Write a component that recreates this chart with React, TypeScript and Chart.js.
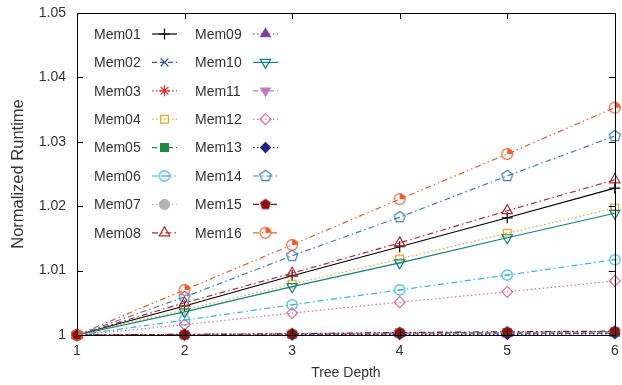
import React, { useEffect, useRef } from 'react';
import { Chart, registerables } from 'chart.js';
import { drawPoint } from 'chart.js/helpers';

Chart.register(...registerables);

const depths = [1, 2, 3, 4, 5, 6];
const yTickValues = [1, 1.01, 1.02, 1.03, 1.04, 1.05];
const seriesNames = ['Mem01', 'Mem02', 'Mem03', 'Mem04', 'Mem05', 'Mem06', 'Mem07', 'Mem08',
  'Mem09', 'Mem10', 'Mem11', 'Mem12', 'Mem13', 'Mem14', 'Mem15', 'Mem16'];

const mem01 = [1, 1.0045, 1.0092, 1.0137, 1.0182, 1.0228];
const mem02 = [1, 1.0000, 1.0001, 1.0002, 1.0002, 1.0003];
const mem03 = [1, 1.0001, 1.0002, 1.0003, 1.0004, 1.0005];
const mem04 = [1, 1.0039, 1.0079, 1.0118, 1.0158, 1.0197];
const mem05 = [1, 1.0000, 1.0001, 1.0003, 1.0004, 1.0005];
const mem06 = [1, 1.0023, 1.0047, 1.0070, 1.0093, 1.0117];
const mem07 = [1, 1.0000, 1.0001, 1.0002, 1.0003, 1.0004];
const mem08 = [1, 1.0050, 1.0096, 1.0143, 1.0193, 1.0241];
const mem09 = [1, 1.0000, 1.0001, 1.0002, 1.0002, 1.0003];
const mem10 = [1, 1.0036, 1.0075, 1.0112, 1.0151, 1.0189];
const mem11 = [1, 1.0000, 1.0001, 1.0002, 1.0003, 1.0004];
const mem12 = [1, 1.0016, 1.0034, 1.0051, 1.0067, 1.0084];
const mem13 = [1, 1.0000, 1.0000, 1.0001, 1.0001, 1.0002];
const mem14 = [1, 1.0059, 1.0123, 1.0183, 1.0247, 1.0309];
const mem15 = [1, 1.0001, 1.0002, 1.0004, 1.0005, 1.0006];
const mem16 = [1, 1.0070, 1.0140, 1.0211, 1.0281, 1.0353];

const seriesValues = [mem01, mem02, mem03, mem04, mem05, mem06, mem07, mem08,
  mem09, mem10, mem11, mem12, mem13, mem14, mem15, mem16];

const FONT = '"Liberation Sans", Arial, Helvetica, sans-serif';
const TEXT = '#333333';

const DASH = [5, 3];
const DOT = [1.5, 2.5];
const DASHDOT = [6, 3, 1.5, 3];
const DASHDOTDOT = [6, 3, 1.5, 3, 1.5, 3];

function makeMarker(draw: (ctx: CanvasRenderingContext2D) => void) {
  const c = document.createElement('canvas');
  c.width = 16;
  c.height = 16;
  const ctx = c.getContext('2d') as CanvasRenderingContext2D;
  ctx.translate(8, 8);
  draw(ctx);
  return c;
}

function pentagonPath(ctx: CanvasRenderingContext2D, r: number) {
  ctx.beginPath();
  for (let k = 0; k < 5; k++) {
    const a = -Math.PI / 2 + (k * 2 * Math.PI) / 5;
    const x = r * Math.cos(a);
    const y = r * Math.sin(a);
    if (k === 0) ctx.moveTo(x, y); else ctx.lineTo(x, y);
  }
  ctx.closePath();
}

function buildStyles() {
  const c06 = '#2db4e6';
  const c14 = '#3d7cc0';
  const c15 = '#8c1212';
  const c16 = '#f05a2a';
  const m06 = makeMarker((ctx) => {
    ctx.strokeStyle = c06; ctx.lineWidth = 1.2;
    ctx.beginPath(); ctx.arc(0, 0, 5.2, 0, Math.PI * 2); ctx.stroke();
    ctx.beginPath(); ctx.moveTo(-2.5, 0); ctx.lineTo(2.5, 0); ctx.stroke();
  });
  const m14 = makeMarker((ctx) => {
    ctx.strokeStyle = c14; ctx.lineWidth = 1.2;
    pentagonPath(ctx, 5.8); ctx.stroke();
  });
  const m15 = makeMarker((ctx) => {
    ctx.fillStyle = c15;
    pentagonPath(ctx, 5.8); ctx.fill();
  });
  const m16 = makeMarker((ctx) => {
    ctx.strokeStyle = c16; ctx.fillStyle = c16; ctx.lineWidth = 1.2;
    ctx.beginPath(); ctx.arc(0, 0, 5.4, 0, Math.PI * 2); ctx.stroke();
    ctx.beginPath(); ctx.moveTo(0, 0); ctx.arc(0, 0, 5.4, -Math.PI / 2, 0); ctx.closePath(); ctx.fill();
  });
  const none = 'rgba(0,0,0,0)';
  return [
    { color: '#000000', dash: [], style: 'cross', radius: 5.5, fill: none, rot: 0 },
    { color: '#3456a8', dash: DASH, style: 'crossRot', radius: 5.5, fill: none, rot: 0 },
    { color: '#e8262a', dash: DOT, style: 'star', radius: 5.5, fill: none, rot: 0 },
    { color: '#f7a21b', dash: DOT, style: 'rect', radius: 5.5, fill: none, rot: 0 },
    { color: '#1f8a3c', dash: DASH, style: 'rect', radius: 5.5, fill: '#1f8a3c', rot: 0 },
    { color: c06, dash: DASHDOT, style: m06, radius: 5.5, fill: none, rot: 0 },
    { color: '#b4b4b4', dash: DOT, style: 'circle', radius: 5, fill: '#b4b4b4', rot: 0 },
    { color: '#b5262b', dash: DASHDOT, style: 'triangle', radius: 6, fill: none, rot: 0 },
    { color: '#7a3f9a', dash: DOT, style: 'triangle', radius: 5.5, fill: '#7a3f9a', rot: 0 },
    { color: '#0a8585', dash: [], style: 'triangle', radius: 6, fill: none, rot: 180 },
    { color: '#c27cc0', dash: DASH, style: 'triangle', radius: 5.5, fill: '#c27cc0', rot: 180 },
    { color: '#e06c9a', dash: DOT, style: 'rectRot', radius: 5.5, fill: none, rot: 0 },
    { color: '#22237a', dash: DOT, style: 'rectRot', radius: 5, fill: '#22237a', rot: 0 },
    { color: c14, dash: DASHDOT, style: m14, radius: 5.5, fill: none, rot: 0 },
    { color: c15, dash: DASHDOTDOT, style: m15, radius: 5.5, fill: c15, rot: 0 },
    { color: c16, dash: DASHDOTDOT, style: m16, radius: 5.5, fill: none, rot: 0 },
  ];
}

export default function App() {
  const ref = useRef<HTMLCanvasElement | null>(null);

  useEffect(() => {
    document.body.style.margin = '0';
    const canvas = ref.current;
    if (!canvas) return;
    const styles = buildStyles();

    const datasets = seriesNames.map((name, i) => {
      const s = styles[i];
      return {
        label: name,
        data: depths.map((d, j) => ({ x: d, y: seriesValues[i][j] })),
        borderColor: s.color,
        backgroundColor: s.fill,
        borderWidth: 1.2,
        borderDash: s.dash,
        pointStyle: s.style as any,
        pointRadius: s.radius,
        pointRotation: s.rot,
        pointBorderColor: s.color,
        pointBackgroundColor: s.fill,
        pointBorderWidth: 1.2,
        tension: 0,
        clip: false as any,
        order: 16 - i,
      };
    });

    const framePlugin = {
      id: 'frameAndLegend',
      afterDraw(chart: any) {
        const ctx = chart.ctx as CanvasRenderingContext2D;
        const { left, right, top, bottom } = chart.chartArea;
        const xs = chart.scales.x;
        const ys = chart.scales.y;
        ctx.save();
        ctx.strokeStyle = '#000';
        ctx.lineWidth = 1;
        ctx.setLineDash([]);
        ctx.strokeRect(Math.round(left) + 0.5, Math.round(top) + 0.5, Math.round(right - left), Math.round(bottom - top));
        const tl = 6;
        ctx.beginPath();
        depths.forEach((d) => {
          const px = Math.round(xs.getPixelForValue(d)) + 0.5;
          ctx.moveTo(px, bottom); ctx.lineTo(px, bottom - tl);
          ctx.moveTo(px, top); ctx.lineTo(px, top + tl);
        });
        yTickValues.forEach((v) => {
          const py = Math.round(ys.getPixelForValue(v)) + 0.5;
          ctx.moveTo(left, py); ctx.lineTo(left + tl, py);
          ctx.moveTo(right, py); ctx.lineTo(right - tl, py);
        });
        ctx.stroke();

        // legend
        ctx.font = `14px ${FONT}`;
        ctx.textBaseline = 'middle';
        ctx.textAlign = 'left';
        const colText = [94, 195];
        const colLine = [152, 253];
        const lineLen = 25;
        const rowY0 = 34;
        const rowStep = 28.4;
        seriesNames.forEach((name, i) => {
          const col = i < 8 ? 0 : 1;
          const row = i % 8;
          const y = rowY0 + row * rowStep;
          const s = styles[i];
          ctx.fillStyle = TEXT;
          ctx.fillText(name, colText[col], y + 1);
          ctx.strokeStyle = s.color;
          ctx.lineWidth = 1.2;
          ctx.setLineDash(s.dash);
          ctx.beginPath();
          ctx.moveTo(colLine[col], y);
          ctx.lineTo(colLine[col] + lineLen, y);
          ctx.stroke();
          ctx.setLineDash([]);
          ctx.fillStyle = s.fill;
          ctx.strokeStyle = s.color;
          ctx.lineWidth = 1.2;
          drawPoint(ctx, { pointStyle: s.style as any, rotation: s.rot, radius: s.radius, borderWidth: 1.2 } as any,
            colLine[col] + lineLen / 2, y);
        });
        ctx.restore();
      },
    };

    const chart = new Chart(canvas, {
      type: 'line',
      data: { datasets: datasets as any },
      options: {
        animation: false,
        responsive: false,
        maintainAspectRatio: false,
        layout: { padding: { left: 0, right: 7, top: 13, bottom: 0 } },
        plugins: { legend: { display: false }, tooltip: { enabled: false } },
        scales: {
          x: {
            type: 'linear',
            min: 1,
            max: 6,
            afterFit: (scale: any) => {
              scale.height = 50;
              scale.paddingLeft = 0;
              scale.paddingRight = 0;
            },
            afterBuildTicks: (scale: any) => { scale.ticks = depths.map((v) => ({ value: v })); },
            grid: { display: false, drawTicks: false },
            border: { display: false },
            ticks: {
              padding: 8,
              color: TEXT,
              font: { family: FONT, size: 14 },
              maxRotation: 0,
              callback: (v: any) => String(v),
            },
            title: {
              display: true,
              text: 'Tree Depth',
              color: TEXT,
              font: { family: FONT, size: 14 },
              padding: { top: 0, bottom: 3 },
            },
          },
          y: {
            type: 'linear',
            min: 1,
            max: 1.05,
            afterFit: (scale: any) => {
              scale.width = 77;
              scale.paddingTop = 0;
              scale.paddingBottom = 0;
            },
            afterBuildTicks: (scale: any) => { scale.ticks = yTickValues.map((v) => ({ value: v })); },
            grid: { display: false, drawTicks: false },
            border: { display: false },
            ticks: {
              padding: 11,
              color: TEXT,
              font: { family: FONT, size: 14 },
              callback: (v: any) => String(+Number(v).toFixed(2)),
            },
            title: {
              display: true,
              text: 'Normalized Runtime',
              color: TEXT,
              font: { family: FONT, size: 16.5 },
              padding: { top: 9, bottom: 0 },
            },
          },
        },
      },
      plugins: [framePlugin],
    });

    return () => chart.destroy();
  }, []);

  return (
    <div style={{ width: 622, height: 385 }}>
      <canvas ref={ref} width={622} height={385} style={{ display: 'block' }} />
    </div>
  );
}
